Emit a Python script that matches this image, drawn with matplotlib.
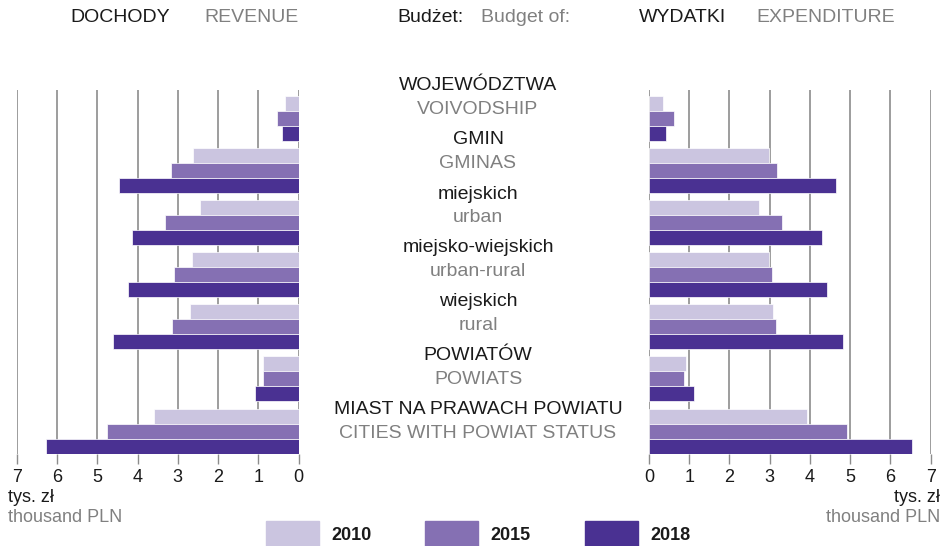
import matplotlib
matplotlib.use("Agg")
import matplotlib.pyplot as plt
import numpy as np

plt.rcParams['font.family'] = ['Liberation Sans', 'DejaVu Sans']

# ---- data ----
cat_pl = ["WOJEWÓDZTWA", "GMIN", "miejskich", "miejsko-wiejskich", "wiejskich",
          "POWIATÓW", "MIAST NA PRAWACH POWIATU"]
cat_en = ["VOIVODSHIP", "GMINAS", "urban", "urban-rural", "rural",
          "POWIATS", "CITIES WITH POWIAT STATUS"]
years = ["2010", "2015", "2018"]
revenue_2010 = [0.34, 2.63, 2.45, 2.65, 2.70, 0.88, 3.59]
revenue_2015 = [0.53, 3.17, 3.32, 3.09, 3.14, 0.89, 4.75]
revenue_2018 = [0.41, 4.45, 4.14, 4.24, 4.61, 1.08, 6.28]
expend_2010 = [0.34, 2.99, 2.74, 2.99, 3.07, 0.91, 3.92]
expend_2015 = [0.61, 3.17, 3.31, 3.05, 3.15, 0.88, 4.93]
expend_2018 = [0.43, 4.65, 4.31, 4.43, 4.83, 1.12, 6.53]
x_ticks = [0, 1, 2, 3, 4, 5, 6, 7]

colors = ["#cbc5e0", "#8570b3", "#4a3192"]
gray = "#808080"
black = "#1a1a1a"
gridc = "#8c8c8c"

W, H = 944, 546
fig = plt.figure(figsize=(W / 100, H / 100), dpi=100)

def px_axes(x0, x1, y0, y1):
    return fig.add_axes([x0 / W, 1 - y1 / H, (x1 - x0) / W, (y1 - y0) / H])

axL = px_axes(16.7, 298.7, 90, 454)
axR = px_axes(649, 930.7, 90, 454)

bh = 0.288
n = len(cat_pl)
idx = np.arange(n)
rev = [revenue_2010, revenue_2015, revenue_2018]
exp_ = [expend_2010, expend_2015, expend_2018]

for ax, data in ((axL, rev), (axR, exp_)):
    for j in range(3):
        ax.barh(idx + (j - 1) * bh, data[j], height=bh, color=colors[j],
                edgecolor="white", linewidth=0.5, zorder=3)
    ax.set_ylim(n - 1 + 0.44, -0.547)
    ax.set_xticks(x_ticks)
    ax.set_xticklabels([str(t) for t in x_ticks])
    ax.grid(axis="x", color=gridc, linewidth=1.2, zorder=0)
    ax.set_yticks([])
    for s in ax.spines.values():
        s.set_visible(False)
    ax.tick_params(axis="x", length=7, width=1, color=gridc, labelsize=13,
                   labelcolor=black, pad=4)
    ax.patch.set_alpha(0)

axL.set_xlim(7, 0)
axR.set_xlim(0, 7)

def ftext(x, y, s, **kw):
    fig.text(x / W, 1 - y / H, s, **kw)

# centre labels (own vertical rhythm, 54 px apart)
cx = 478
for i in range(n):
    ftext(cx, 86 + 54 * i, cat_pl[i], ha="center", va="center",
          fontsize=14, color=black)
    ftext(cx, 110 + 54 * i, cat_en[i], ha="center", va="center",
          fontsize=14, color=gray)

# header
ftext(70, 18, "DOCHODY", fontsize=14, color=black, va="center")
ftext(204, 18, "REVENUE", fontsize=14, color=gray, va="center")
ftext(397, 18, "Budżet:", fontsize=14, color=black, va="center")
ftext(481, 18, "Budget of:", fontsize=14, color=gray, va="center")
ftext(639, 18, "WYDATKI", fontsize=14, color=black, va="center")
ftext(756, 18, "EXPENDITURE", fontsize=14, color=gray, va="center")

# units
ftext(8, 498, "tys. zł", fontsize=13, color=black, va="center")
ftext(8, 517, "thousand PLN", fontsize=13, color=gray, va="center")
ftext(940, 498, "tys. zł", fontsize=13, color=black, va="center", ha="right")
ftext(940, 517, "thousand PLN", fontsize=13, color=gray, va="center", ha="right")

# legend
leg_x = [266, 425, 585]
for j in range(3):
    fig.patches.append(plt.Rectangle((leg_x[j] / W, 1 - 547 / H), 53 / W, 26 / H,
                                     transform=fig.transFigure, color=colors[j]))
    ftext(leg_x[j] + 65, 535, years[j], fontsize=13, fontweight="bold",
          color=black, va="center")

fig.savefig("out.png", dpi=100)
